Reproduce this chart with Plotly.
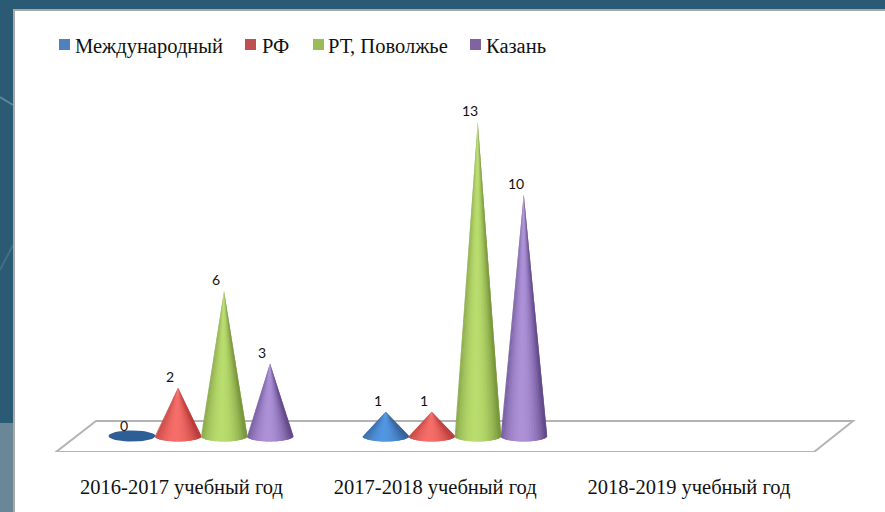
import math
import plotly.graph_objects as go

categories = ["2016-2017 учебный год", "2017-2018 учебный год", "2018-2019 учебный год"]
series_names = ["Международный", "РФ", "РТ, Поволжье", "Казань"]
intl_values = [0, 1, None]
rf_values = [2, 1, None]
rt_values = [6, 13, None]
kazan_values = [3, 10, None]
legend_colors = ["#4f81bd", "#c0504d", "#9bbb59", "#8064a2"]
edge_colors = [(50, 95, 150), (185, 60, 58), (122, 152, 62), (100, 75, 140)]
light_colors = [(82, 150, 225), (245, 110, 105), (185, 220, 110), (172, 145, 215)]
legend_square_px = [59, 245, 313, 470]
legend_text_px = [75, 262, 328, 486]

W, H = 885, 512
AXIS_PX = 452
PX_PER_X = 253.75
X0_PX = 181.5
DEPTH = 19.5 / PX_PER_X   # cones stand on the raised floor, right of their axis label
PX_PER_Y = 24.17
Y0_PX = 436
SPACING = 46 / PX_PER_X
HALF_W = 23.5 / PX_PER_X
ELL_B = 5.5 / PX_PER_Y


def xd(px):
    return (px - X0_PX) / PX_PER_X


def yd(px):
    return (Y0_PX - px) / PX_PER_Y


def paper_y(px):
    return 1 - px / AXIS_PX


def shade(i, t):
    k = max(0.0, math.cos((t + 0.1) * math.pi / 2)) ** 0.8
    e, l = edge_colors[i], light_colors[i]
    return "rgb(%d,%d,%d)" % tuple(round(e[c] + (l[c] - e[c]) * k) for c in range(3))


fig = go.Figure()
values = [intl_values, rf_values, rt_values, kazan_values]
N = 26
for s, vals in enumerate(values):
    for c, v in enumerate(vals):
        if v is None:
            continue
        cx = c + DEPTH + (s - 1.5) * SPACING
        if v == 0:
            angs = [2 * math.pi * j / 40 for j in range(41)]
            fig.add_trace(go.Scatter(
                x=[cx + HALF_W * math.cos(a) for a in angs],
                y=[ELL_B * math.sin(a) for a in angs],
                mode="lines", line=dict(width=0), fill="toself",
                fillcolor="rgb(45,95,150)", showlegend=False, hoverinfo="skip",
                name=series_names[s]))
            continue
        for j in range(N):
            a0 = math.pi * j / N
            a1 = min(math.pi, math.pi * (j + 2) / N)  # overlaps the next strip, hides seams
            sub = [a0 + (a1 - a0) * q / 4 for q in range(5)]
            xs = [cx] + [cx - HALF_W * math.cos(a) for a in sub] + [cx]
            ys = [v] + [-ELL_B * math.sin(a) for a in sub] + [v]
            t = -math.cos(math.pi * (j + 0.5) / N)
            fig.add_trace(go.Scatter(
                x=xs, y=ys, mode="lines", line=dict(width=0),
                fill="toself", fillcolor=shade(s, t), showlegend=False,
                hoverinfo="skip", name=series_names[s]))

annotations = []
for s, vals in enumerate(values):
    for c, v in enumerate(vals):
        if v is None:
            continue
        annotations.append(dict(
            x=c + DEPTH + (s - 1.5) * SPACING, y=v, xref="x", yref="y", text=str(v),
            showarrow=False, yanchor="middle", xanchor="center", yshift=11, xshift=-8,
            font=dict(family="Lato", size=14, color="#111111")))
    annotations.append(dict(
        x=legend_text_px[s] / W, y=paper_y(46), xref="paper", yref="paper",
        text=series_names[s], showarrow=False, xanchor="left", yanchor="middle",
        xshift=-2,
        font=dict(family="Liberation Serif", size=20.5, color="#111111")))

shapes = [
    dict(type="rect", xref="paper", yref="paper", x0=14 / W, x1=1.01,
         y0=paper_y(520), y1=paper_y(10), fillcolor="white",
         line=dict(color="#a8a8a8", width=2), layer="below"),
    dict(type="rect", xref="paper", yref="paper", x0=0, x1=13 / W,
         y0=paper_y(512), y1=paper_y(423), fillcolor="#6a8797",
         line=dict(width=0), layer="below"),
    dict(type="line", xref="paper", yref="paper", x0=0, x1=13 / W,
         y0=paper_y(97), y1=paper_y(105), line=dict(color="rgba(170,200,215,0.4)", width=2),
         layer="below"),
    dict(type="line", xref="paper", yref="paper", x0=0, x1=13 / W,
         y0=paper_y(270), y1=paper_y(245), line=dict(color="rgba(150,185,205,0.22)", width=2),
         layer="below"),
    dict(type="path", xref="x", yref="y", layer="below",
         path="M %f %f L %f %f L %f %f L %f %f Z" % (
             xd(56), yd(452), xd(814), yd(452), xd(853), yd(421), xd(96), yd(421)),
         line=dict(color="#b4b4b4", width=2)),
]
for s, left in enumerate(legend_square_px):
    shapes.append(dict(type="rect", xref="paper", yref="paper",
                       x0=left / W, x1=(left + 11) / W,
                       y0=paper_y(50), y1=paper_y(39),
                       fillcolor=legend_colors[s], line=dict(width=0), layer="below"))

fig.update_layout(
    width=W, height=H,
    margin=dict(l=0, r=0, t=0, b=H - AXIS_PX, pad=0),
    paper_bgcolor="#2a5a74", plot_bgcolor="rgba(0,0,0,0)",
    shapes=shapes, annotations=annotations,
    showlegend=False,
    xaxis=dict(range=[xd(0), xd(W)], tickvals=[0, 1, 2], ticktext=categories,
               ticks="outside", ticklen=16, tickcolor="rgba(0,0,0,0)",
               showgrid=False, zeroline=False, showline=False,
               tickfont=dict(family="Liberation Serif", size=20.5, color="#111111")),
    yaxis=dict(range=[yd(AXIS_PX), yd(0)], visible=False, showgrid=False, zeroline=False),
)
fig.write_html("out.html", config=dict(displayModeBar=False),
               post_script="document.body.style.margin='0';document.body.style.overflow='hidden';")
